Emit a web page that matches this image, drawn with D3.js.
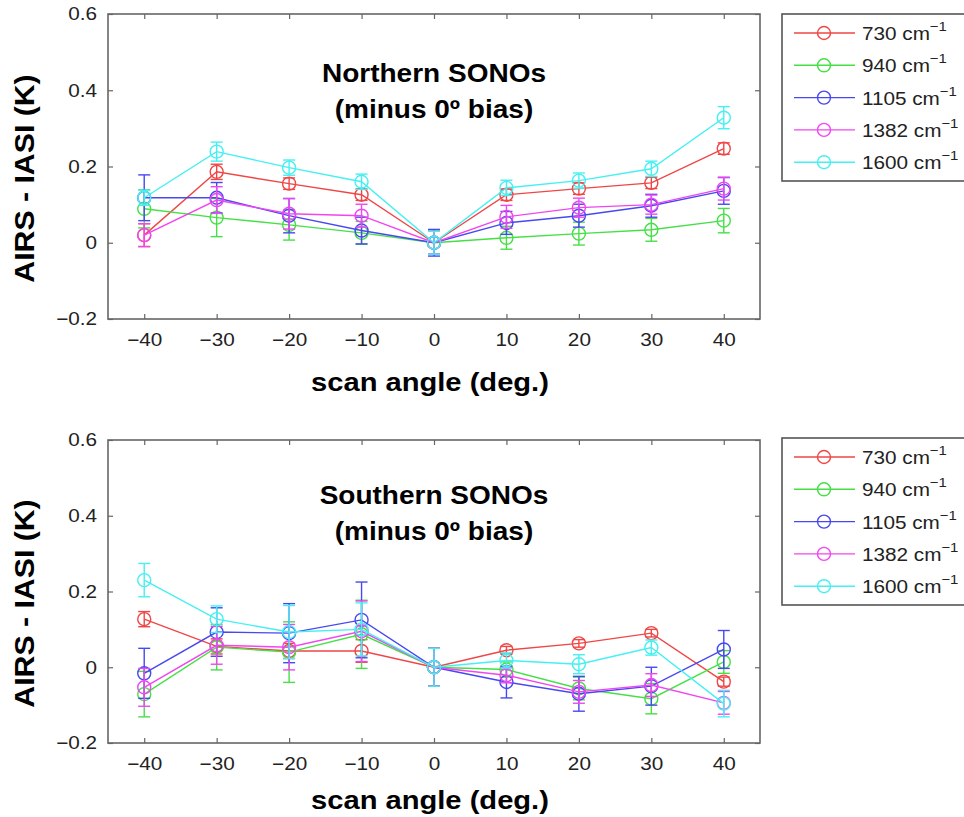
<!DOCTYPE html>
<html><head><meta charset="utf-8">
<script src="https://cdn.jsdelivr.net/npm/d3@7"></script>
<style>
body{margin:0;background:#fff}
svg{display:block}
text{font-family:"Liberation Sans",Arial,Helvetica,sans-serif}
</style></head>
<body><svg id="c" width="964" height="817"></svg>
<script>
// ---------- data ----------
const angles = [-40,-30,-20,-10,0,10,20,30,40];
const xTicks = [-40,-30,-20,-10,0,10,20,30,40];
const yTicks = [-0.2,0,0.2,0.4,0.6];
const seriesLabels = ["730","940","1105","1382","1600"];
const seriesColors = ["#f04646","#46e046","#4848f2","#f046f0","#46f0f2"];

// Northern SONOs (minus 0 deg bias)
const north730  = [0.020,0.186,0.155,0.126,0,0.126,0.142,0.157,0.247];
const north940  = [0.089,0.066,0.047,0.026,0,0.013,0.024,0.034,0.058];
const north1105 = [0.118,0.118,0.071,0.032,0,0.052,0.071,0.097,0.136];
const north1382 = [0.020,0.112,0.076,0.071,0,0.068,0.092,0.100,0.142];
const north1600 = [0.118,0.239,0.197,0.160,0,0.144,0.163,0.194,0.328];
const north730Err  = [0.030,0.020,0.015,0.015,0.030,0.015,0.015,0.015,0.015];
const north940Err  = [0.050,0.050,0.040,0.030,0.030,0.030,0.030,0.030,0.032];
const north1105Err = [0.060,0.040,0.045,0.035,0.035,0.030,0.030,0.030,0.035];
const north1382Err = [0.030,0.035,0.040,0.030,0.030,0.030,0.025,0.025,0.030];
const north1600Err = [0.020,0.025,0.020,0.020,0.030,0.020,0.020,0.020,0.029];

// Southern SONOs (minus 0 deg bias)
const south730  = [0.127,0.055,0.043,0.043,0,0.045,0.063,0.090,-0.038];
const south940  = [-0.071,0.053,0.040,0.087,0,-0.006,-0.056,-0.083,0.014];
const south1105 = [-0.016,0.093,0.090,0.125,0,-0.039,-0.070,-0.050,0.047];
const south1382 = [-0.053,0.058,0.053,0.095,0,-0.021,-0.065,-0.047,-0.094];
const south1600 = [0.230,0.127,0.093,0.100,0,0.018,0.008,0.052,-0.096];
const south730Err  = [0.020,0.020,0.020,0.030,0.050,0.010,0.010,0.010,0.012];
const south940Err  = [0.060,0.060,0.080,0.090,0.050,0.020,0.030,0.040,0.030];
const south1105Err = [0.066,0.064,0.078,0.100,0.050,0.042,0.046,0.050,0.050];
const south1382Err = [0.050,0.050,0.060,0.080,0.050,0.020,0.030,0.030,0.030];
const south1600Err = [0.044,0.035,0.070,0.070,0.050,0.020,0.025,0.020,0.035];

const northValues = [north730,north940,north1105,north1382,north1600];
const northErrors = [north730Err,north940Err,north1105Err,north1382Err,north1600Err];
const southValues = [south730,south940,south1105,south1382,south1600];
const southErrors = [south730Err,south940Err,south1105Err,south1382Err,south1600Err];

// ---------- drawing ----------
const svg = d3.select("#c");
const x = d3.scaleLinear().domain([-45,45]).range([108,760]);
const fmtY = d => d===0 ? "0" : d3.format(".1f")(d);

function panel(top, bottom, titleA, titleB, values, errors, legendTop, titleY, xLabelY){
  const y = d3.scaleLinear().domain([-0.2,0.6]).range([bottom, top]);
  const g = svg.append("g");
  const axisColor = "#666";
  // box
  g.append("rect").attr("x",108).attr("y",top).attr("width",652).attr("height",bottom-top)
    .attr("fill","none").attr("stroke",axisColor).attr("stroke-width",1.6);
  // axes (ticks inward)
  const xb = g.append("g").attr("transform",`translate(0,${bottom})`)
    .call(d3.axisBottom(x).tickValues(xTicks).tickSizeInner(-5).tickSizeOuter(0).tickPadding(14).tickFormat(d3.format("d")));
  const xt = g.append("g").attr("transform",`translate(0,${top})`)
    .call(d3.axisTop(x).tickValues(xTicks).tickSizeInner(-5).tickSizeOuter(0).tickFormat(""));
  const yl = g.append("g").attr("transform",`translate(108,0)`)
    .call(d3.axisLeft(y).tickValues(yTicks).tickSizeInner(-5).tickSizeOuter(0).tickPadding(11).tickFormat(fmtY));
  const yr = g.append("g").attr("transform",`translate(760,0)`)
    .call(d3.axisRight(y).tickValues(yTicks).tickSizeInner(-5).tickSizeOuter(0).tickFormat(""));
  [xb,xt,yl,yr].forEach(a=>{
    a.select(".domain").remove();
    a.selectAll("line").attr("stroke",axisColor).attr("stroke-width",1.2);
    a.selectAll("text").attr("fill","#222").attr("font-size",18).attr("class","stretch");
  });
  xb.selectAll("text").attr("dy","0.71em");

  // series
  values.forEach((vals,i)=>{
    const col = seriesColors[i];
    const pts = angles.map((a,j)=>({a, v: vals[j], e: errors[i][j]}));
    const sg = g.append("g");
    sg.append("path").datum(pts)
      .attr("d", d3.line().x(d=>x(d.a)).y(d=>y(d.v)))
      .attr("fill","none").attr("stroke",col).attr("stroke-width",1.4);
    const eb = sg.selectAll(".eb").data(pts).enter().append("g");
    eb.append("line").attr("x1",d=>x(d.a)).attr("x2",d=>x(d.a))
      .attr("y1",d=>y(d.v-d.e)).attr("y2",d=>y(d.v+d.e)).attr("stroke",col).attr("stroke-width",1.4);
    eb.append("line").attr("x1",d=>x(d.a)-6).attr("x2",d=>x(d.a)+6)
      .attr("y1",d=>y(d.v-d.e)).attr("y2",d=>y(d.v-d.e)).attr("stroke",col).attr("stroke-width",1.4);
    eb.append("line").attr("x1",d=>x(d.a)-6).attr("x2",d=>x(d.a)+6)
      .attr("y1",d=>y(d.v+d.e)).attr("y2",d=>y(d.v+d.e)).attr("stroke",col).attr("stroke-width",1.4);
    sg.selectAll("circle").data(pts).enter().append("circle")
      .attr("cx",d=>x(d.a)).attr("cy",d=>y(d.v)).attr("r",6.5)
      .attr("fill","none").attr("stroke",col).attr("stroke-width",1.4);
  });

  // titles
  g.append("text").attr("x",x(0)).attr("y",titleY).attr("text-anchor","middle")
    .attr("font-size",25).attr("font-weight","bold").attr("fill","#000").attr("class","stretchT").text(titleA);
  g.append("text").attr("x",x(0)).attr("y",titleY+36).attr("text-anchor","middle")
    .attr("font-size",25).attr("font-weight","bold").attr("fill","#000").attr("class","stretchT").text(titleB);

  // axis labels
  g.append("text").attr("x",x(0)-4).attr("y",xLabelY).attr("text-anchor","middle")
    .attr("font-size",26).attr("font-weight","bold").attr("fill","#000").attr("class","stretchT").text("scan angle (deg.)");
  const cy = (top+bottom)/2 + 12;
  g.append("text").attr("transform",`translate(34,${cy}) rotate(-90)`).attr("text-anchor","middle")
    .attr("font-size",27).attr("font-weight","bold").attr("fill","#000").attr("class","stretchT").text("AIRS - IASI (K)");

  // legend
  const lg = svg.append("g");
  lg.append("rect").attr("x",782).attr("y",legendTop).attr("width",200).attr("height",167)
    .attr("fill","#fff").attr("stroke","#555").attr("stroke-width",1.6);
  seriesLabels.forEach((lab,i)=>{
    const yy = legendTop + 19 + i*32.3;
    lg.append("line").attr("x1",794).attr("x2",855).attr("y1",yy).attr("y2",yy)
      .attr("stroke",seriesColors[i]).attr("stroke-width",1.4);
    lg.append("circle").attr("cx",824).attr("cy",yy).attr("r",6.5).attr("fill","none")
      .attr("stroke",seriesColors[i]).attr("stroke-width",1.4);
    const t = lg.append("text").attr("x",862).attr("y",yy+7).attr("font-size",18).attr("fill","#222").attr("class","stretch");
    t.append("tspan").text(lab+" cm");
    t.append("tspan").attr("dy",-9).attr("font-size",13).text("\u22121");
  });
}

panel(14, 319, "Northern SONOs", "(minus 0\u00ba bias)", northValues, northErrors, 14, 82, 391);
panel(440, 743, "Southern SONOs", "(minus 0\u00ba bias)", southValues, southErrors, 438, 504, 809);

// horizontal stretch to match the reference's wide lettering
svg.selectAll("text.stretch").each(function(){
  const w = this.getComputedTextLength();
  if (w>0) d3.select(this).attr("textLength", w*1.15).attr("lengthAdjust","spacingAndGlyphs");
});
svg.selectAll("text.stretchT").each(function(){
  const w = this.getComputedTextLength();
  if (w>0) d3.select(this).attr("textLength", w*1.12).attr("lengthAdjust","spacingAndGlyphs");
});
</script></body></html>
